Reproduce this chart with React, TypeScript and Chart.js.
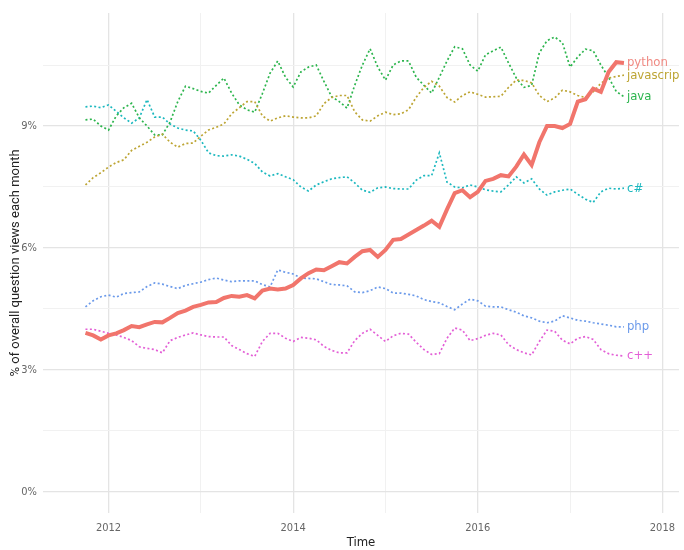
import React, { useEffect, useRef } from "react";
import { Chart, registerables } from "chart.js";

Chart.register(...registerables);

// Monthly observations, Oct 2011 – Aug 2017
const months = [
  "2011-10", "2011-11", "2011-12",
  "2012-01", "2012-02", "2012-03", "2012-04", "2012-05", "2012-06", "2012-07", "2012-08", "2012-09", "2012-10", "2012-11", "2012-12",
  "2013-01", "2013-02", "2013-03", "2013-04", "2013-05", "2013-06", "2013-07", "2013-08", "2013-09", "2013-10", "2013-11", "2013-12",
  "2014-01", "2014-02", "2014-03", "2014-04", "2014-05", "2014-06", "2014-07", "2014-08", "2014-09", "2014-10", "2014-11", "2014-12",
  "2015-01", "2015-02", "2015-03", "2015-04", "2015-05", "2015-06", "2015-07", "2015-08", "2015-09", "2015-10", "2015-11", "2015-12",
  "2016-01", "2016-02", "2016-03", "2016-04", "2016-05", "2016-06", "2016-07", "2016-08", "2016-09", "2016-10", "2016-11", "2016-12",
  "2017-01", "2017-02", "2017-03", "2017-04", "2017-05", "2017-06", "2017-07", "2017-08",
];

const python = [
  3.91, 3.85, 3.75, 3.85, 3.9, 3.98, 4.08, 4.05, 4.12, 4.18,
  4.17, 4.28, 4.4, 4.46, 4.55, 4.6, 4.66, 4.67, 4.77, 4.82,
  4.8, 4.84, 4.76, 4.95, 5.0, 4.98, 5.0, 5.09, 5.25, 5.38,
  5.47, 5.45, 5.55, 5.65, 5.62, 5.78, 5.92, 5.95, 5.78, 5.95,
  6.2, 6.22, 6.33, 6.44, 6.55, 6.67, 6.52, 6.95, 7.35, 7.42,
  7.25, 7.38, 7.65, 7.7, 7.79, 7.76, 8.0, 8.3, 8.04, 8.6,
  9.0, 9.0, 8.95, 9.05, 9.6, 9.66, 9.92, 9.84, 10.33, 10.57,
  10.55,
];

const javascript = [
  7.55, 7.73, 7.85, 7.99, 8.1, 8.17, 8.4, 8.5, 8.6, 8.73,
  8.8, 8.6, 8.48, 8.57, 8.58, 8.75, 8.9, 8.97, 9.05, 9.3,
  9.45, 9.6, 9.6, 9.25, 9.12, 9.2, 9.25, 9.22, 9.2, 9.2,
  9.25, 9.55, 9.7, 9.75, 9.75, 9.35, 9.15, 9.12, 9.25, 9.34,
  9.28, 9.3, 9.4, 9.71, 9.95, 10.1, 9.98, 9.7, 9.59, 9.75,
  9.84, 9.78, 9.71, 9.72, 9.73, 9.95, 10.13, 10.12, 10.06, 9.75,
  9.6, 9.69, 9.88, 9.84, 9.75, 9.7, 9.84, 10.05, 10.18, 10.22,
  10.25,
];

const java = [
  9.15, 9.17, 9.0, 8.9, 9.25, 9.45, 9.56, 9.2, 9.0, 8.78,
  8.78, 9.1, 9.6, 9.98, 9.92, 9.85, 9.81, 10.0, 10.18, 9.81,
  9.52, 9.4, 9.34, 9.8, 10.3, 10.6, 10.2, 9.96, 10.33, 10.45,
  10.5, 10.1, 9.72, 9.6, 9.44, 10.0, 10.5, 10.9, 10.45, 10.13,
  10.5, 10.6, 10.6, 10.2, 10.0, 9.81, 10.2, 10.6, 10.95, 10.9,
  10.5, 10.35, 10.75, 10.85, 10.94, 10.55, 10.18, 9.95, 10.0, 10.8,
  11.1, 11.19, 11.05, 10.45, 10.7, 10.89, 10.85, 10.5, 10.2, 9.85,
  9.72,
];

const csharp = [
  9.47, 9.49, 9.45, 9.52, 9.36, 9.2, 9.07, 9.2, 9.65, 9.22,
  9.22, 9.05, 8.95, 8.9, 8.88, 8.65, 8.34, 8.27, 8.26, 8.29,
  8.26, 8.18, 8.08, 7.87, 7.77, 7.83, 7.75, 7.68, 7.5, 7.4,
  7.55, 7.63, 7.7, 7.73, 7.75, 7.6, 7.42, 7.37, 7.48, 7.5,
  7.46, 7.45, 7.45, 7.67, 7.78, 7.78, 8.34, 7.62, 7.5, 7.48,
  7.55, 7.5, 7.43, 7.4, 7.38, 7.55, 7.75, 7.6, 7.7, 7.45,
  7.3, 7.38, 7.42, 7.45, 7.32, 7.2, 7.12, 7.38, 7.47, 7.45,
  7.47,
];

const php = [
  4.55, 4.7, 4.8, 4.84, 4.79, 4.88, 4.9, 4.92, 5.05, 5.14,
  5.11, 5.05, 5.0, 5.08, 5.12, 5.16, 5.22, 5.26, 5.21, 5.17,
  5.19, 5.19, 5.19, 5.1, 5.04, 5.46, 5.4, 5.36, 5.26, 5.25,
  5.24, 5.17, 5.1, 5.09, 5.07, 4.92, 4.9, 4.95, 5.04, 5.0,
  4.89, 4.89, 4.86, 4.82, 4.73, 4.68, 4.65, 4.56, 4.48, 4.62,
  4.74, 4.7, 4.57, 4.55, 4.55, 4.48, 4.42, 4.33, 4.28, 4.2,
  4.16, 4.2, 4.33, 4.28, 4.22, 4.2, 4.16, 4.13, 4.1, 4.06,
  4.06,
];

const cpp = [
  4.0, 4.0, 3.95, 3.9, 3.86, 3.8, 3.72, 3.57, 3.53, 3.5,
  3.42, 3.72, 3.8, 3.86, 3.91, 3.86, 3.82, 3.81, 3.81, 3.6,
  3.5, 3.4, 3.33, 3.7, 3.9, 3.9, 3.78, 3.7, 3.8, 3.78,
  3.74, 3.58, 3.48, 3.42, 3.42, 3.72, 3.9, 4.0, 3.85, 3.7,
  3.84, 3.9, 3.88, 3.68, 3.5, 3.38, 3.4, 3.78, 4.03, 3.98,
  3.72, 3.77, 3.85, 3.9, 3.86, 3.62, 3.5, 3.42, 3.37, 3.7,
  3.98, 3.95, 3.73, 3.64, 3.78, 3.82, 3.75, 3.5, 3.4, 3.36,
  3.34,
];

const yMajorTicks = [0, 3, 6, 9];
const yMinorTicks = [1.5, 4.5, 7.5, 10.5];
const xMajorTicks = [2012, 2014, 2016, 2018];
const xMinorTicks = [2013, 2015, 2017];

const toYear = (s: string) => {
  const [y, m] = s.split("-").map(Number);
  return y + (m - 1) / 12;
};

const series = (vals: number[]) => vals.map((v, i) => ({ x: toYear(months[i]), y: v }));

const TICK_FONT = "'DejaVu Sans Condensed', Roboto, sans-serif";

const endLabels = {
  id: "endLabels",
  afterDatasetsDraw(chart: any) {
    const ctx = chart.ctx;
    chart.data.datasets.forEach((ds: any, i: number) => {
      const meta = chart.getDatasetMeta(i);
      const pt = meta.data[meta.data.length - 1];
      if (!pt) return;
      ctx.save();
      ctx.font = `13px ${TICK_FONT}`;
      ctx.fillStyle = ds.labelColor || ds.borderColor;
      ctx.textAlign = "left";
      ctx.textBaseline = "middle";
      ctx.fillText(ds.label, pt.x + 3, pt.y);
      ctx.restore();
    });
  },
};

export default function App() {
  const ref = useRef<HTMLCanvasElement | null>(null);

  useEffect(() => {
    document.body.style.margin = "0";
    if (!ref.current) return;
    const dotted = (label: string, data: number[], color: string) => ({
      label,
      data: series(data),
      borderColor: color,
      backgroundColor: color,
      borderWidth: 1.7,
      borderDash: [2, 2.4],
      pointRadius: 0,
      tension: 0,
      fill: false,
    });
    const chart = new Chart(ref.current, {
      type: "line",
      data: {
        datasets: [
          {
            label: "python",
            data: series(python),
            borderColor: "#F1756C",
            backgroundColor: "#F1756C",
            borderWidth: 4,
            pointRadius: 0,
            tension: 0,
            fill: false,
            labelColor: "#F08A83",
          } as any,
          dotted("javascrip", javascript, "#BDA534"),
          dotted("java", java, "#2DB54E"),
          dotted("c#", csharp, "#1CB8BF"),
          dotted("php", php, "#6B9AEA"),
          dotted("c++", cpp, "#E35FD6"),
        ],
      },
      options: {
        animation: false,
        responsive: false,
        devicePixelRatio: 1,
        layout: { padding: { top: 13, left: 0, right: 0, bottom: 0 } },
        plugins: {
          legend: { display: false },
          tooltip: { enabled: false },
        },
        scales: {
          x: {
            type: "linear",
            min: 2011.29,
            max: 2018.18,
            afterBuildTicks: (scale: any) => {
              scale.ticks = [...xMajorTicks, ...xMinorTicks]
                .sort((a, b) => a - b)
                .map((v) => ({ value: v }));
            },
            afterFit: (scale: any) => {
              scale.height = 37;
            },
            border: { display: false },
            grid: {
              drawTicks: false,
              color: (c: any) => (xMajorTicks.includes(c.tick?.value) ? "#E4E4E4" : "#F1F1F1"),
              lineWidth: (c: any) => (xMajorTicks.includes(c.tick?.value) ? 1.3 : 1),
            },
            ticks: {
              padding: 9,
              color: "#666666",
              font: { family: TICK_FONT, size: 11 },
              maxRotation: 0,
              autoSkip: false,
              callback: (v: any) => (xMajorTicks.includes(Number(v)) ? String(v) : ""),
            },
            title: {
              display: true,
              text: "Time",
              color: "#222222",
              font: { family: TICK_FONT, size: 13 },
              padding: { top: 0, bottom: 0 },
            },
          },
          y: {
            type: "linear",
            min: -0.52,
            max: 11.78,
            afterBuildTicks: (scale: any) => {
              scale.ticks = [...yMajorTicks, ...yMinorTicks]
                .sort((a, b) => a - b)
                .map((v) => ({ value: v }));
            },
            afterFit: (scale: any) => {
              scale.width = 43;
            },
            border: { display: false },
            grid: {
              drawTicks: false,
              color: (c: any) => (yMajorTicks.includes(c.tick?.value) ? "#E4E4E4" : "#F1F1F1"),
              lineWidth: (c: any) => (yMajorTicks.includes(c.tick?.value) ? 1.3 : 1),
            },
            ticks: {
              padding: 6,
              color: "#666666",
              font: { family: TICK_FONT, size: 11 },
              autoSkip: false,
              callback: (v: any) => (yMajorTicks.includes(Number(v)) ? `${v}%` : ""),
            },
            title: {
              display: true,
              text: "% of overall question views each month",
              color: "#222222",
              font: { family: "Roboto, 'Liberation Sans', sans-serif", size: 13 },
              padding: { top: 8, bottom: 0 },
            },
          },
        },
      } as any,
      plugins: [endLabels],
    });
    return () => chart.destroy();
  }, []);

  return (
    <div style={{ width: 684, height: 550 }}>
      <canvas ref={ref} width={684} height={550} style={{ display: "block" }} />
    </div>
  );
}
